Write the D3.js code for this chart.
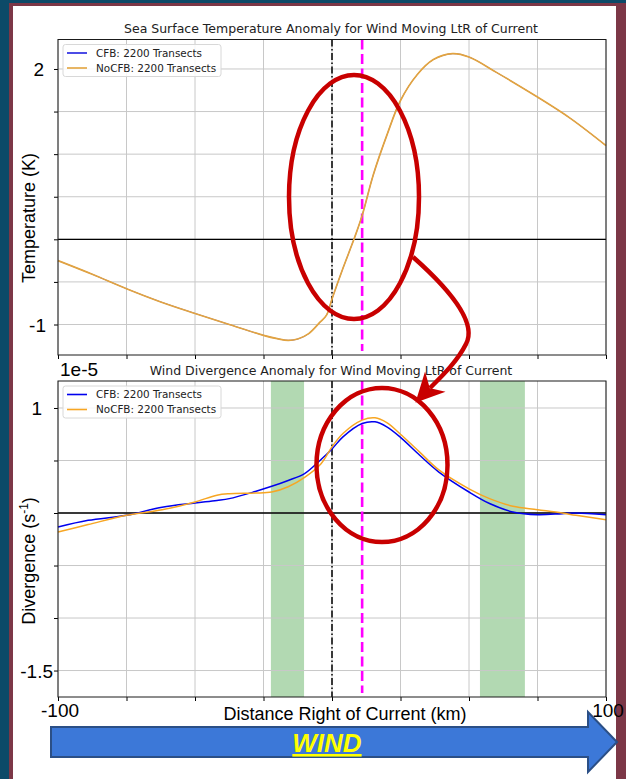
<!DOCTYPE html>
<html>
<head>
<meta charset="utf-8">
<script src="https://cdn.jsdelivr.net/npm/d3@7"></script>
<style>
body { margin: 0; background: #fff; }
svg { display: block; }
</style>
</head>
<body>
<div id="chart"></div>
<script>
// ---- data ----
var distTop = [-100, -87.5, -75, -62.5, -50, -37.5, -25, -20, -16, -12.5, -8.5, -4.3, -2, 0, 4, 8, 11, 15, 20, 25, 31, 37, 44, 50, 60, 75, 87, 100];
var sstNoCFB = [-0.25, -0.41, -0.58, -0.735, -0.87, -1.0, -1.127, -1.166, -1.186, -1.17, -1.107, -0.97, -0.89, -0.70, -0.34, 0.0, 0.28, 0.75, 1.22, 1.63, 1.93, 2.11, 2.18, 2.14, 1.96, 1.67, 1.42, 1.10];
// CFB curve is hidden under the NoCFB one in the top panel
var sstCFB = sstNoCFB;

var distBot = [-100, -89, -75, -62, -50, -42, -37.5, -28, -22, -16, -10, -4, 0, 4, 11, 15.7, 20, 25, 32, 39, 50, 57.5, 66, 75, 84, 89, 100];
var divCFB = [-0.134, -0.07, -0.022, 0.055, 0.095, 0.12, 0.137, 0.205, 0.254, 0.31, 0.375, 0.51, 0.61, 0.725, 0.852, 0.868, 0.82, 0.72, 0.55, 0.39, 0.2, 0.09, 0.01, -0.016, -0.006, 0.0, -0.016];
var divNoCFB = [-0.18, -0.11, -0.022, 0.03, 0.105, 0.17, 0.184, 0.19, 0.2, 0.25, 0.34, 0.47, 0.63, 0.757, 0.884, 0.906, 0.86, 0.75, 0.58, 0.41, 0.23, 0.137, 0.064, 0.032, 0.0, -0.022, -0.064];

var xTicks = [-100, -75, -50, -25, 0, 25, 50, 75, 100];
var xTickLabels = { "-100": "-100", "100": "100" };
var topTicks = [-1, -0.5, 0, 0.5, 1, 1.5, 2];
var topTickLabels = { "2": "2", "-1": "-1" };
var botTicks = [-1.5, -1, -0.5, 0, 0.5, 1];
var botTickLabels = { "1": "1", "-1.5": "-1.5" };
var shadeBands = [[-22.3, -10.2], [54, 70.4]];
var currentKm = 0;
var peakKm = 11;
var seriesNames = ["CFB: 2200 Transects", "NoCFB: 2200 Transects"];

var W = 626, H = 779;
var svg = d3.select("#chart").append("svg").attr("width", W).attr("height", H);

// slide frame
svg.append("rect").attr("width", W).attr("height", H).attr("fill", "#0c4a68");
svg.append("rect").attr("x", 9).attr("y", 3).attr("width", W - 9).attr("height", H).attr("fill", "#7c3747");
svg.append("rect").attr("x", 13).attr("y", 6).attr("width", 603).attr("height", H).attr("fill", "#fff");

var x = d3.scaleLinear().domain([-100, 100]).range([58, 606]);

function drawPanel(cfg) {
    var y = d3.scaleLinear().domain(cfg.domain).range([cfg.bottom, cfg.top]);
    var g = svg.append("g");

    // shaded bands
    (cfg.bands || []).forEach(function (b) {
        g.append("rect")
            .attr("x", x(b[0])).attr("width", x(b[1]) - x(b[0]))
            .attr("y", cfg.top).attr("height", cfg.bottom - cfg.top)
            .attr("fill", "#008000").attr("fill-opacity", 0.3);
    });

    // grid
    g.selectAll(".vg").data(xTicks).enter().append("line")
        .attr("x1", function (d) { return x(d); }).attr("x2", function (d) { return x(d); })
        .attr("y1", cfg.top).attr("y2", cfg.bottom)
        .attr("stroke", "#c8c8c8").attr("stroke-width", 1);
    g.selectAll(".hg").data(cfg.ticks).enter().append("line")
        .attr("x1", x.range()[0]).attr("x2", x.range()[1])
        .attr("y1", function (d) { return y(d); }).attr("y2", function (d) { return y(d); })
        .attr("stroke", "#c8c8c8").attr("stroke-width", 1);

    // tick marks
    var ya = g.append("g").attr("transform", "translate(" + x.range()[0] + ",0)")
        .call(d3.axisLeft(y).tickValues(cfg.ticks).tickSize(4).tickFormat(""));
    ya.select(".domain").remove();
    var xa = g.append("g").attr("transform", "translate(0," + cfg.bottom + ")")
        .call(d3.axisBottom(x).tickValues(xTicks).tickSize(4).tickFormat(""));
    xa.select(".domain").remove();

    // zero line
    g.append("line").attr("x1", x.range()[0]).attr("x2", x.range()[1])
        .attr("y1", y(0)).attr("y2", y(0)).attr("stroke", "#000").attr("stroke-width", 1.3);

    // current + peak markers
    g.append("line").attr("x1", x(currentKm)).attr("x2", x(currentKm))
        .attr("y1", cfg.top).attr("y2", cfg.bottom)
        .attr("stroke", "#000").attr("stroke-width", 1.5).attr("stroke-dasharray", "7,2.5,1.5,2.5");
    g.append("line").attr("x1", x(peakKm)).attr("x2", x(peakKm))
        .attr("y1", cfg.top).attr("y2", cfg.bottom - 4)
        .attr("stroke", "#ff00ff").attr("stroke-width", 2.6).attr("stroke-dasharray", "10,4.5");

    // curves
    var line = d3.line().curve(d3.curveCatmullRom.alpha(0.5))
        .x(function (d) { return x(d[0]); }).y(function (d) { return y(d[1]); });
    cfg.series.forEach(function (s, i) {
        g.append("path").datum(d3.zip(cfg.dist, s))
            .attr("d", line).attr("fill", "none")
            .attr("stroke", cfg.colors[i]).attr("stroke-width", cfg.widths[i]);
    });

    // spines
    g.append("rect").attr("x", x.range()[0]).attr("y", cfg.top)
        .attr("width", x.range()[1] - x.range()[0]).attr("height", cfg.bottom - cfg.top)
        .attr("fill", "none").attr("stroke", "#1a1a1a").attr("stroke-width", 1);

    // tick labels (only a few kept)
    cfg.ticks.forEach(function (t) {
        var lab = cfg.labels[String(t)];
        if (!lab) return;
        g.append("text").attr("x", cfg.labelX[String(t)]).attr("y", y(t) + 7)
            .attr("text-anchor", "end")
            .style("font-family", "Liberation Sans, Arial, sans-serif").style("font-size", "19px")
            .text(lab);
    });

    // title
    g.append("text").attr("x", 331).attr("y", cfg.top - 6.5).attr("text-anchor", "middle")
        .style("font-family", "DejaVu Sans, sans-serif").style("font-size", "12.5px").attr("fill", "#222")
        .text(cfg.title);

    // legend
    var lg = g.append("g").attr("transform", "translate(63," + (cfg.top + 5) + ")");
    lg.append("rect").attr("width", 158).attr("height", 32).attr("rx", 2.5)
        .attr("fill", "#fff").attr("fill-opacity", 0.85).attr("stroke", "#d8d8d8");
    seriesNames.forEach(function (n, i) {
        var ly = 8.5 + i * 15;
        lg.append("line").attr("x1", 4).attr("x2", 24).attr("y1", ly).attr("y2", ly)
            .attr("stroke", cfg.colors[i]).attr("stroke-width", 1.6);
        lg.append("text").attr("x", 33).attr("y", ly + 3.6)
            .style("font-family", "DejaVu Sans, sans-serif").style("font-size", "10.4px").attr("fill", "#222")
            .text(n);
    });

    // y label
    var yl = g.append("text")
        .attr("transform", "translate(35," + cfg.ylabelY + ") rotate(-90)")
        .attr("text-anchor", "middle")
        .style("font-family", "Liberation Sans, Arial, sans-serif").style("font-size", "18px");
    cfg.ylabel(yl);
    return y;
}

drawPanel({
    top: 39.5, bottom: 355, domain: [-1.358, 2.346],
    ticks: topTicks, labels: topTickLabels, labelX: { "2": 44, "-1": 46 },
    dist: distTop, series: [sstCFB, sstNoCFB],
    colors: ["#1f1fe0", "#e3a43f"], widths: [0.8, 1.7],
    title: "Sea Surface Temperature Anomaly for Wind Moving LtR of Current",
    ylabelY: 218,
    ylabel: function (t) { t.text("Temperature (K)"); }
});

drawPanel({
    top: 381, bottom: 697, domain: [-1.752, 1.257],
    ticks: botTicks, labels: botTickLabels, labelX: { "1": 42, "-1.5": 53 },
    dist: distBot, series: [divCFB, divNoCFB], bands: shadeBands,
    colors: ["#0000ee", "#f7a623"], widths: [1.5, 1.5],
    title: "Wind Divergence Anomaly for Wind Moving LtR of Current",
    ylabelY: 561,
    ylabel: function (t) {
        t.append("tspan").text("Divergence (s");
        t.append("tspan").attr("dy", -7).style("font-size", "12px").text("-1");
        t.append("tspan").attr("dy", 7).text(")");
    }
});

// offset label of the lower panel
svg.append("text").attr("x", 60).attr("y", 376)
    .style("font-family", "Liberation Sans, Arial, sans-serif").style("font-size", "19px").text("1e-5");

// x tick labels + axis label
xTicks.forEach(function (t) {
    var lab = xTickLabels[String(t)];
    if (!lab) return;
    svg.append("text").attr("x", x(t) + 2).attr("y", 717).attr("text-anchor", "middle")
        .style("font-family", "Liberation Sans, Arial, sans-serif").style("font-size", "19px").text(lab);
});
svg.append("text").attr("x", 345).attr("y", 720).attr("text-anchor", "middle")
    .style("font-family", "Liberation Sans, Arial, sans-serif").style("font-size", "18px")
    .text("Distance Right of Current (km)");

// red annotations
var red = "#c80000";
svg.append("ellipse").attr("cx", 354).attr("cy", 197).attr("rx", 65).attr("ry", 122)
    .attr("fill", "none").attr("stroke", red).attr("stroke-width", 4.5);
svg.append("ellipse").attr("cx", 382).attr("cy", 465).attr("rx", 65.5).attr("ry", 77)
    .attr("fill", "none").attr("stroke", red).attr("stroke-width", 4.5);
svg.append("path").attr("d", "M413,257 C448,288 478,322 466,344 C457,362 441,377 430,388")
    .attr("fill", "none").attr("stroke", red).attr("stroke-width", 4.5);
svg.append("path").attr("d", "M417,401 L442,392 L429,389 L425,375 Z")
    .attr("fill", red).attr("stroke", red).attr("stroke-width", 2).attr("stroke-linejoin", "miter");

// WIND arrow
svg.append("path").attr("d", "M51,727 L588,727 L588,712 L617,742 L588,772 L588,757 L51,757 Z")
    .attr("fill", "#3c78d8").attr("stroke", "#2b4f86").attr("stroke-width", 2);
svg.append("text").attr("x", 327).attr("y", 752).attr("text-anchor", "middle")
    .style("font-family", "Liberation Sans, Arial, sans-serif").style("font-size", "26px")
    .style("font-weight", "bold").style("font-style", "italic").style("text-decoration", "underline")
    .attr("fill", "#ffff00").text("WIND");
</script>
</body>
</html>
